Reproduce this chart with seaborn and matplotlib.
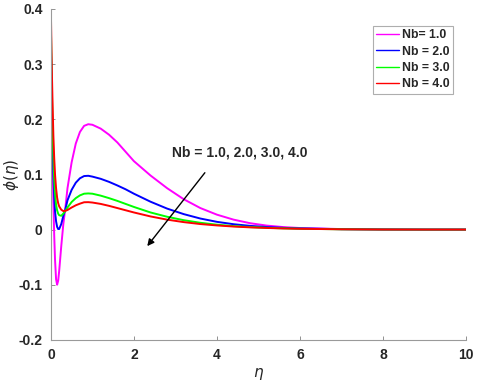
import numpy as np
import pandas as pd
import seaborn as sns
from matplotlib import pyplot as plt

# eta grid and phi(eta)
eta = [0, 0.02, 0.04, 0.06, 0.08, 0.1, 0.125, 0.15, 0.175, 0.2, 0.25, 0.3, 0.35,
       0.4, 0.5, 0.6, 0.7, 0.8, 0.9, 1.0, 1.2, 1.4, 1.6, 1.8, 2.0, 2.4, 2.8,
       3.2, 3.6, 4.0, 4.4, 4.8, 5.2, 5.6, 6.0, 7.0, 8.0, 9.0, 10.0]

phi_nb1 = [0.235, 0.19, 0.12, 0.05, -0.01, -0.055, -0.09, -0.1, -0.093, -0.075,
           -0.03, 0.01, 0.04, 0.075, 0.122, 0.156, 0.177, 0.188, 0.191, 0.19,
           0.183, 0.172, 0.158, 0.141, 0.124, 0.098, 0.075, 0.055, 0.039, 0.027,
           0.018, 0.0115, 0.0072, 0.0045, 0.0028, 0.0009, 0.0002, 0.0, 0.0]
phi_nb2 = [0.338, 0.24, 0.16, 0.1, 0.06, 0.033, 0.015, 0.005, 0.001, 0.001,
           0.01, 0.025, 0.037, 0.053, 0.072, 0.085, 0.093, 0.097, 0.0975, 0.096,
           0.092, 0.0865, 0.08, 0.073, 0.065, 0.0505, 0.038, 0.028, 0.02, 0.014,
           0.0097, 0.0067, 0.0046, 0.0031, 0.0021, 0.0007, 0.0002, 0.0, 0.0]
phi_nb3 = [0.37, 0.27, 0.19, 0.13, 0.09, 0.065, 0.045, 0.035, 0.029, 0.026,
           0.025, 0.029, 0.034, 0.04, 0.05, 0.057, 0.062, 0.065, 0.0655, 0.065,
           0.0615, 0.057, 0.052, 0.0465, 0.041, 0.031, 0.0232, 0.017, 0.0123, 0.0088,
           0.0063, 0.0045, 0.0032, 0.0022, 0.0015, 0.0005, 0.0001, 0.0, 0.0]
phi_nb4 = [0.395, 0.3, 0.23, 0.17, 0.13, 0.1, 0.075, 0.058, 0.048, 0.042,
           0.036, 0.0335, 0.034, 0.0355, 0.04, 0.044, 0.047, 0.0495, 0.0497, 0.049,
           0.0465, 0.043, 0.039, 0.035, 0.031, 0.0238, 0.018, 0.0135, 0.01, 0.0075,
           0.0055, 0.004, 0.0029, 0.002, 0.0014, 0.0005, 0.0001, 0.0, 0.0]

labels = ["Nb= 1.0", "Nb = 2.0", "Nb = 3.0", "Nb = 4.0"]
colors = ["#ff00ff", "#0000ff", "#00ff00", "#ff0000"]
y_ticks = [-0.2, -0.1, 0, 0.1, 0.2, 0.3, 0.4]
y_ticklabels = ["-0.2", "-0.1", "0", "0.1", "0.2", "0.3", "0.4"]
x_ticks = [0, 2, 4, 6, 8, 10]

frames = []
for lab, vals in zip(labels, [phi_nb1, phi_nb2, phi_nb3, phi_nb4]):
    frames.append(pd.DataFrame({"eta": eta, "phi": vals, "case": lab}))
df = pd.concat(frames, ignore_index=True)

sns.set_theme(style="white")
plt.rcParams["font.family"] = ["Liberation Sans", "DejaVu Sans"]

fig = plt.figure(figsize=(4.8, 3.88), dpi=100)
ax = fig.add_axes([0.106, 0.124, 0.865, 0.853])

sns.lineplot(data=df, x="eta", y="phi", hue="case", hue_order=labels,
             palette=dict(zip(labels, colors)), sort=False, estimator=None,
             linewidth=1.4, ax=ax)

ax.set_xlim(0, 10)
ax.set_ylim(-0.2, 0.4)
ax.set_xticks(x_ticks)
ax.set_xticklabels([str(t) for t in x_ticks])
ax.set_yticks(y_ticks)
ax.set_yticklabels(y_ticklabels)
for lbl in ax.get_xticklabels() + ax.get_yticklabels():
    lbl.set_fontweight("bold")
    lbl.set_fontsize(10)
ax.tick_params(direction="in", length=3, width=0.6, color="#808080",
               left=True, bottom=True, pad=6)
for side in ["top", "right"]:
    ax.spines[side].set_visible(False)
for side in ["left", "bottom"]:
    ax.spines[side].set_color("#9a9a9a")
    ax.spines[side].set_linewidth(0.8)

ax.set_xlabel(r"$\eta$", fontsize=11, labelpad=3)
ax.set_ylabel(r"$\phi(\eta)$", fontsize=11)
ax.yaxis.set_label_coords(-0.072, 0.5)

ax.annotate("", xy=(2.28, -0.034), xytext=(3.75, 0.107),
            arrowprops=dict(arrowstyle="-|>", color="black", lw=1.0,
                            mutation_scale=10))
ax.text(4.55, 0.139, "Nb = 1.0, 2.0, 3.0, 4.0", fontsize=10,
        fontweight="bold", ha="center", va="center")

leg = ax.legend(loc="upper right", bbox_to_anchor=(0.969, 0.949),
                prop={"weight": "bold", "size": 8.8}, frameon=True,
                fancybox=False, handlelength=1.9, handletextpad=0.2,
                borderpad=0.3, labelspacing=0.35, borderaxespad=0)
leg.get_frame().set_edgecolor("#9a9a9a")
leg.get_frame().set_linewidth(0.8)
for h in leg.get_lines():
    h.set_linewidth(1.0)

fig.savefig("out.png", dpi=100)
